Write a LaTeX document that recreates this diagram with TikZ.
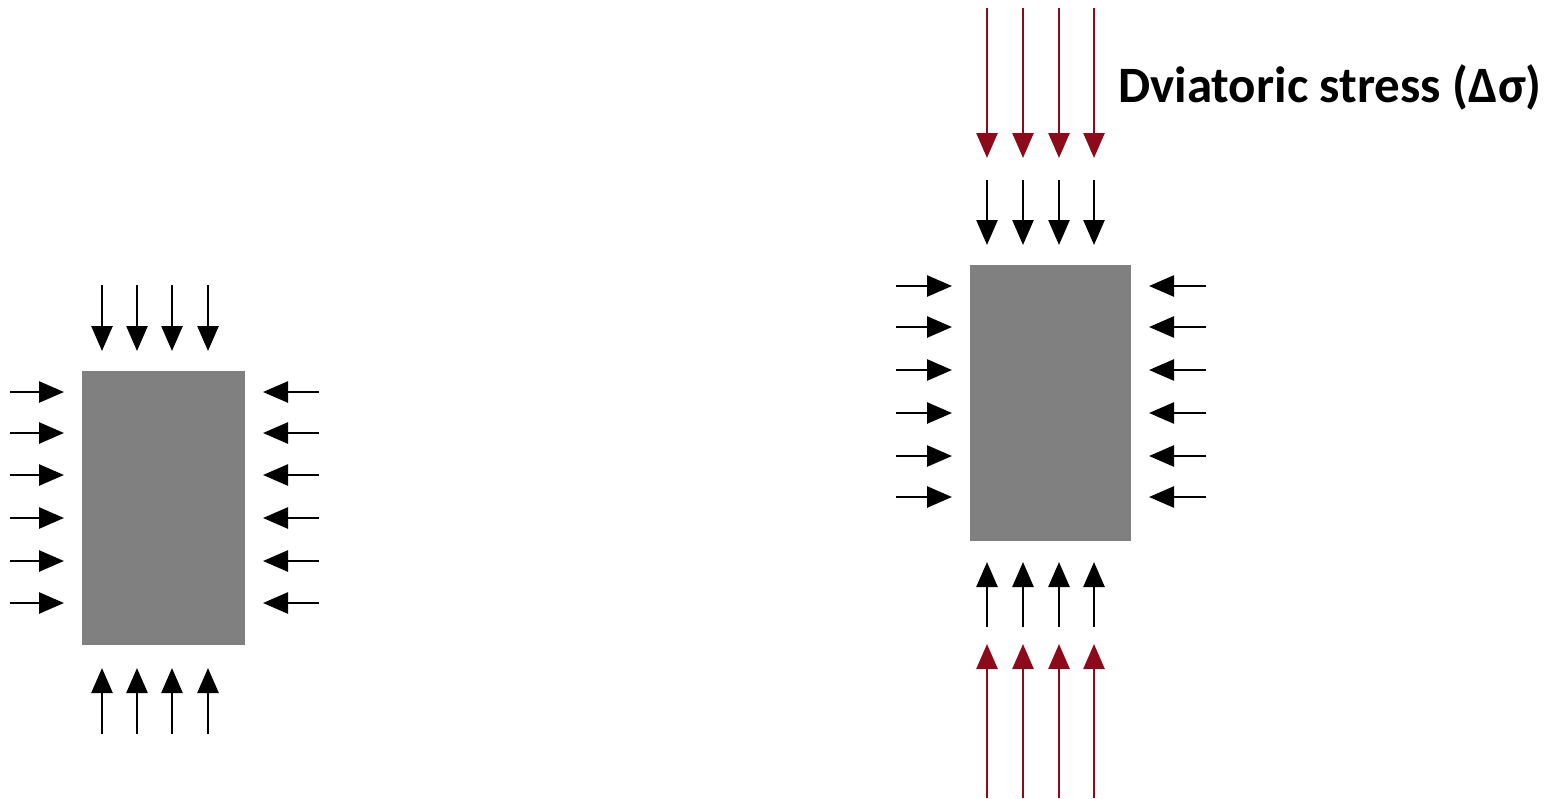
\documentclass[tikz,border=0pt]{standalone}
\usepackage{fontspec}
\newfontfamily\labelfont{Carlito}
\usetikzlibrary{arrows.meta}
\definecolor{blockgray}{RGB}{128,128,128}
\definecolor{devred}{RGB}{140,10,25}
\tikzset{
  blk/.style={fill=blockgray, draw=none},
  farrow/.style={line width=2.6pt, -{Triangle[width=21pt,length=25pt]}},
  redarrow/.style={farrow, draw=devred, -{Triangle[width=21pt,length=25pt,fill=devred]}},
  lbl/.style={font=\labelfont\bfseries\fontsize{51}{58}\selectfont, anchor=base west, inner sep=0pt}
}
\begin{document}
\begin{tikzpicture}[x=1pt,y=-1pt]
\useasboundingbox (0,0) rectangle (1549,798);
% left block
\node[blk, minimum width=163pt, minimum height=274pt, inner sep=0pt, anchor=north west] (L) at (82,371) {};
\foreach \x in {102,137,172,208} {
  \draw[farrow] (\x,285) -- (\x,351);
  \draw[farrow] (\x,734) -- (\x,668);
}
\foreach \y in {392,433,475,518,561,603} {
  \draw[farrow] (10,\y) -- (64,\y);
  \draw[farrow] (319,\y) -- (263,\y);
}
% right block
\node[blk, minimum width=161pt, minimum height=276pt, inner sep=0pt, anchor=north west] (R) at (970,265) {};
\foreach \x in {987,1023,1059,1094} {
  \draw[redarrow] (\x,8) -- (\x,158);
  \draw[farrow] (\x,180) -- (\x,245);
  \draw[farrow] (\x,627) -- (\x,562);
  \draw[redarrow] (\x,798) -- (\x,644);
}
\foreach \y in {286,327,370,413,456,497} {
  \draw[farrow] (896,\y) -- (952,\y);
  \draw[farrow] (1206,\y) -- (1149,\y);
}
\node[lbl] (T) at (1118,102) {Dviatoric stress (Δσ)};
\end{tikzpicture}
\end{document}
